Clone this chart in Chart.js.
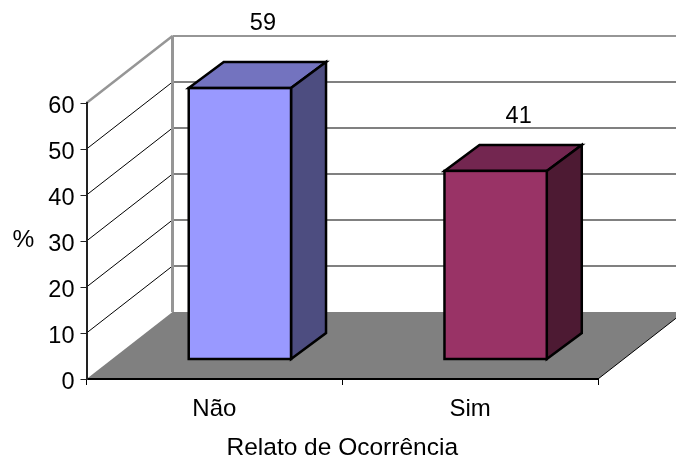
<!DOCTYPE html>
<html>
<head>
<meta charset="utf-8">
<style>html,body{margin:0;padding:0;background:#fff}canvas{display:block}</style>
<script src="https://cdn.jsdelivr.net/npm/chart.js@4"></script>
</head>
<body>
<canvas id="c" width="676" height="460"></canvas>
<script>
const categories = ['Não', 'Sim'];
const values = [59, 41];
const frontColors = ['#9999FF', '#993366'];
const topColors = ['#7373BF', '#732650'];
const sideColors = ['#4D4D80', '#4D1A33'];
const yTicks = [0, 10, 20, 30, 40, 50, 60];
const yTitle = '%';
const xTitle = 'Relato de Ocorrência';

// Projection of the box: wall depth, bar offset from the front plane, bar depth.
const WALL = { dx: 86, dy: -67 };
const BAR_SHIFT = { dx: 25.5, dy: -19.5 };
const BAR_DEPTH = { dx: 35, dy: -26 };
const CAPTION_LIFT = [64.5, 54.5];
const FAMILY = '"Liberation Sans", Arial, sans-serif';
const TICK_FONT = { family: FAMILY, size: 23.5 };
const CAT_FONT = { family: FAMILY, size: 24 };
const TITLE_FONT = { family: FAMILY, size: 24.5 };

function poly(ctx, pts) {
  ctx.beginPath();
  pts.forEach((p, i) => i ? ctx.lineTo(p[0], p[1]) : ctx.moveTo(p[0], p[1]));
  ctx.closePath();
}

const room = {
  id: 'room',
  beforeDraw(chart) {
    const { ctx, chartArea: a, scales: { y } } = chart;
    const far = chart.width + 4;
    const zero = y.getPixelForValue(0);
    const farY = zero + WALL.dy * (far - a.right) / WALL.dx;
    ctx.save();
    // floor
    ctx.fillStyle = '#808080';
    poly(ctx, [[a.left, zero], [a.left + WALL.dx, zero + WALL.dy], [far, zero + WALL.dy], [far, farY], [a.right, zero]]);
    ctx.fill();
    ctx.strokeStyle = '#000';
    ctx.lineWidth = 1;
    ctx.beginPath();
    ctx.moveTo(a.right, zero);
    ctx.lineTo(far, farY);
    ctx.stroke();
    // back wall and side wall grid
    yTicks.forEach(v => {
      if (v === 0) return;
      const py = y.getPixelForValue(v);
      const isTop = v === yTicks[yTicks.length - 1];
      ctx.strokeStyle = isTop ? '#969696' : '#808080';
      ctx.lineWidth = 2;
      ctx.beginPath();
      ctx.moveTo(a.left + WALL.dx, py + WALL.dy);
      ctx.lineTo(far, py + WALL.dy);
      ctx.stroke();
      ctx.strokeStyle = isTop ? '#969696' : '#000';
      ctx.lineWidth = isTop ? 2.5 : 1;
      ctx.beginPath();
      ctx.moveTo(a.left, py);
      ctx.lineTo(a.left + WALL.dx, py + WALL.dy);
      ctx.stroke();
    });
    // wall corner
    ctx.strokeStyle = '#969696';
    ctx.lineWidth = 3;
    ctx.beginPath();
    ctx.moveTo(a.left + WALL.dx, y.getPixelForValue(60) + WALL.dy);
    ctx.lineTo(a.left + WALL.dx, zero + WALL.dy);
    ctx.stroke();
    ctx.restore();
  },
  afterDraw(chart) {
    // horizontal value-axis caption
    const { ctx, chartArea: a } = chart;
    ctx.save();
    ctx.fillStyle = '#000';
    ctx.font = TITLE_FONT.size + 'px ' + FAMILY;
    ctx.textAlign = 'center';
    ctx.textBaseline = 'middle';
    ctx.fillText(yTitle, 23.5, (a.top + a.bottom) / 2 - 1);
    ctx.restore();
  }
};

const boxes = {
  id: 'boxes',
  beforeDatasetsDraw(chart) {
    const { ctx } = chart;
    ctx.save();
    ctx.translate(BAR_SHIFT.dx, BAR_SHIFT.dy);
    const bars = chart.getDatasetMeta(0).data;
    const dx = BAR_DEPTH.dx, dy = BAR_DEPTH.dy;
    ctx.lineWidth = 2.5;
    ctx.strokeStyle = '#000';
    ctx.lineJoin = 'miter';
    bars.forEach((b, i) => {
      const l = b.x - b.width / 2, r = b.x + b.width / 2, t = b.y, bot = b.base;
      ctx.fillStyle = topColors[i];
      poly(ctx, [[l, t], [l + dx, t + dy], [r + dx, t + dy], [r, t]]);
      ctx.fill(); ctx.stroke();
      ctx.fillStyle = sideColors[i];
      poly(ctx, [[r, t], [r + dx, t + dy], [r + dx, bot + dy], [r, bot]]);
      ctx.fill(); ctx.stroke();
    });
  },
  afterDatasetsDraw(chart) {
    const { ctx } = chart;
    const bars = chart.getDatasetMeta(0).data;
    // front-face outlines, centred on the bar edges
    ctx.lineWidth = 2.5;
    ctx.strokeStyle = '#000';
    bars.forEach(b => {
      ctx.strokeRect(b.x - b.width / 2, b.y, b.width, b.base - b.y);
    });
    ctx.restore();
    // value captions above each box
    ctx.save();
    ctx.fillStyle = '#000';
    ctx.font = TICK_FONT.size + 'px ' + FAMILY;
    ctx.textAlign = 'center';
    ctx.textBaseline = 'middle';
    bars.forEach((b, i) => {
      ctx.fillText(String(values[i]), b.x + BAR_SHIFT.dx + 23, b.y + BAR_SHIFT.dy - CAPTION_LIFT[i]);
    });
    ctx.restore();
  }
};

new Chart(document.getElementById('c'), {
  type: 'bar',
  data: {
    labels: categories,
    datasets: [{
      data: values,
      backgroundColor: frontColors,
      borderWidth: 0,
      barPercentage: 0.8,
      categoryPercentage: 0.5,
      clip: false
    }]
  },
  plugins: [room, boxes],
  options: {
    responsive: false,
    animation: false,
    events: [],
    layout: { padding: { top: 103, right: 78, left: 0, bottom: 0 } },
    plugins: { legend: { display: false }, tooltip: { enabled: false }, title: { display: false } },
    scales: {
      x: {
        afterFit(s) { s.height = 81; },
        border: { color: '#000', width: 2 },
        grid: { drawOnChartArea: false, color: '#000', tickLength: 6, offset: true },
        ticks: { color: '#000', font: CAT_FONT, padding: 10, maxRotation: 0 },
        title: { display: true, text: xTitle, color: '#000', font: TITLE_FONT, padding: { top: 15, bottom: -2.5 } }
      },
      y: {
        min: 0,
        max: 60,
        afterFit(s) { s.width = 86.5; },
        afterUpdate(s) {
          // nudge tick labels down to sit optically level with their tick marks
          const compute = s._computeLabelItems.bind(s);
          s._computeLabelItems = area => compute(area).map(item => {
            item.options.translation[1] += 2;
            return item;
          });
          s._labelItems = null;
        },
        border: { color: '#222', width: 2 },
        grid: { drawOnChartArea: false, color: '#222', tickLength: 6 },
        afterBuildTicks(s) { s.ticks = yTicks.map(v => ({ value: v })); },
        ticks: { color: '#000', font: TICK_FONT, padding: 6 }
      }
    }
  }
});
</script>
</body>
</html>
